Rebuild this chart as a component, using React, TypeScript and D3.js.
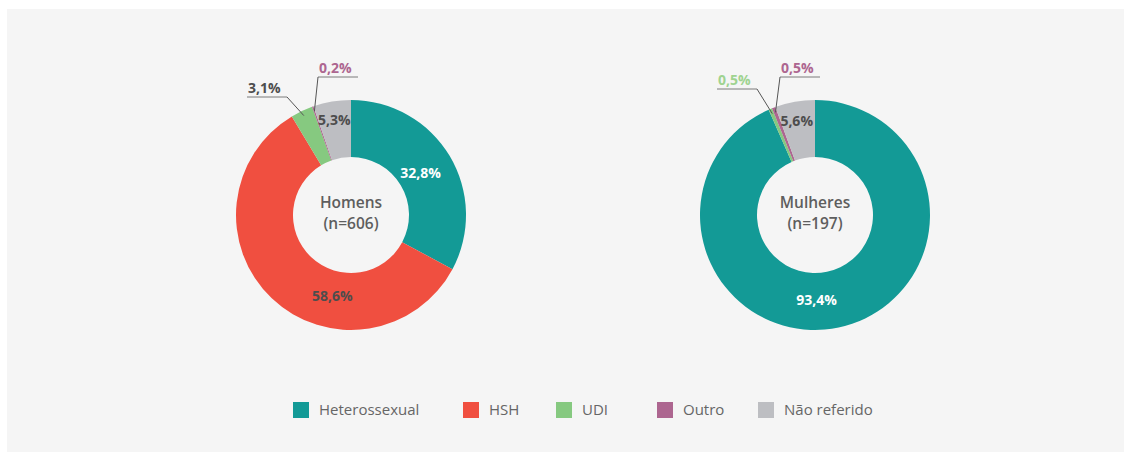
import * as d3 from "d3"
import * as React from "react"

// categories and values (percent)
const categories = ["Heterossexual", "HSH", "UDI", "Outro", "Não referido"]
const colors = ["#139a96", "#f04f40", "#86c980", "#ad6690", "#bdbec2"]
const homens = [32.8, 58.6, 3.1, 0.2, 5.3]
const mulheres = [93.4, 0, 0.5, 0.5, 5.6]

const charts = [
  { title: "Homens", n: 606, values: homens },
  { title: "Mulheres", n: 197, values: mulheres },
]

const W = 1131
const H = 459
const outerR = 115
const innerR = 58
const centersX = [351, 815]
const centerY = 215

// label placement per chart, by category index
// inside: polar position (deg from top, radius); outside: leader anchor offset + side
const labelLayout = [
  {
    0: { type: "in", r: 81, color: "#fff" },
    1: { type: "in", a: 193, r: 83, color: "#4d4d4d" },
    2: { type: "out", dx: -64, dy: -118, side: "left", color: "#4d4d4d" },
    3: { type: "out", dx: -33, dy: -138, side: "right", color: "#ad6690" },
    4: { type: "in", a: -10, r: 96, color: "#4d4d4d" },
  },
  {
    0: { type: "in", a: 179, r: 85, color: "#fff" },
    2: { type: "out", dx: -58, dy: -126, side: "left", color: "#9fd390" },
    3: { type: "out", dx: -35, dy: -138, side: "right", color: "#ad6690" },
    4: { type: "in", a: -11, r: 96, color: "#4d4d4d" },
  },
]

const legendX = [293, 463, 556, 657, 758]

const fmt = (v: number) => v.toFixed(1).replace(".", ",") + "%"

function Donut({ chart, cx, layout }) {
  const pie = d3.pie<number>().sort(null).value(d => d)
  const arcs = pie(chart.values)
  const arc = d3.arc<d3.PieArcDatum<number>>().innerRadius(innerR).outerRadius(outerR)
  const font = "'Open Sans', sans-serif"
  const underlineLen = 40

  return (
    <g transform={`translate(${cx},${centerY})`}>
      {arcs.map((a, i) =>
        a.value > 0 ? <path key={i} d={arc(a)} fill={colors[i]} /> : null
      )}
      {arcs.map((a, i) => {
        const l = layout[i]
        if (!l || a.value <= 0) return null
        const mid = (a.startAngle + a.endAngle) / 2
        if (l.type === "in") {
          const ang = l.a !== undefined ? (l.a * Math.PI) / 180 : mid
          const x = Math.sin(ang) * l.r
          const y = -Math.cos(ang) * l.r
          return (
            <text key={"l" + i} x={x} y={y} dy="0.35em" textAnchor="middle"
              fontFamily={font} fontWeight={700} fontSize={14} fill={l.color}>
              {fmt(a.value)}
            </text>
          )
        }
        const px = Math.sin(mid) * 110
        const py = -Math.cos(mid) * 110
        const x0 = l.side === "left" ? l.dx - underlineLen : l.dx
        const x1 = l.side === "left" ? l.dx : l.dx + underlineLen
        return (
          <g key={"l" + i}>
            <line x1={x0} x2={x1} y1={l.dy} y2={l.dy} stroke="#7a7a7a" strokeWidth={1} />
            <line x1={l.dx} y1={l.dy} x2={px} y2={py} stroke="#555" strokeWidth={1} />
            <text x={x0 + 1} y={l.dy - 4} textAnchor="start"
              fontFamily={font} fontWeight={700} fontSize={14} fill={l.color}>
              {fmt(a.value)}
            </text>
          </g>
        )
      })}
      <text textAnchor="middle" fontFamily={font} fontWeight={600} fontSize={15.5} fill="#5e5e5e">
        <tspan x={0} y={-7}>{chart.title}</tspan>
        <tspan x={0} y={14}>{`(n=${chart.n})`}</tspan>
      </text>
    </g>
  )
}

export default function App() {
  return (
    <div style={{ position: "absolute", left: 0, top: 0 }}>
      <svg width={W} height={H} style={{ display: "block" }}>
        <rect x={0} y={0} width={W} height={H} fill="#fff" />
        <rect x={7} y={9} width={1117} height={443} fill="#f5f5f5" />
        {charts.map((c, i) => (
          <Donut key={c.title} chart={c} cx={centersX[i]} layout={labelLayout[i]} />
        ))}
        <g fontFamily="'Open Sans', sans-serif" fontSize={15} fill="#666">
          {categories.map((c, i) => (
            <g key={c} transform={`translate(${legendX[i]},402)`}>
              <rect width={16} height={16} fill={colors[i]} />
              <text x={26} y={13}>{c}</text>
            </g>
          ))}
        </g>
      </svg>
    </div>
  )
}
